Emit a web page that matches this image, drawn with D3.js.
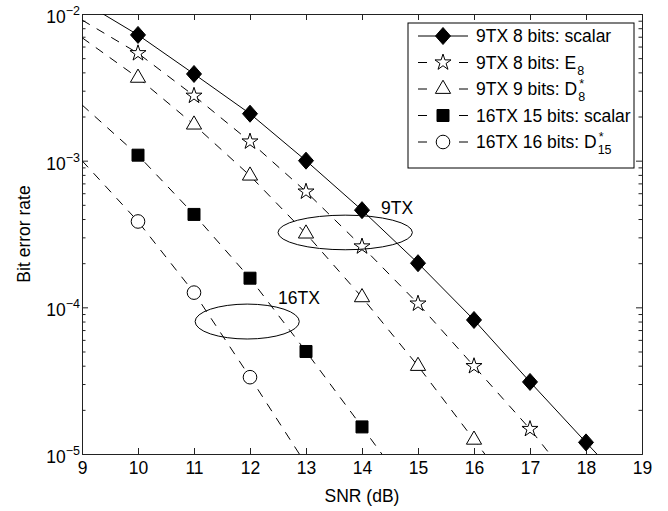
<!DOCTYPE html>
<html>
<head>
<meta charset="utf-8">
<script src="https://cdn.jsdelivr.net/npm/d3@7"></script>
<style>
  body { margin: 0; background: #fff; }
  svg { font-family: Arial, "Liberation Sans", Helvetica, sans-serif; }
</style>
</head>
<body>
<svg width="668" height="511"></svg>
<script>
// marker positions (SNR in dB)
var snr = [10, 11, 12, 13, 14, 15, 16, 17, 18];

// bit error rate
var scalar9 = [7.2e-3, 3.9e-3, 2.09e-3, 1.0e-3, 4.6e-4, 2.0e-4, 8.2e-5, 3.1e-5, 1.2e-5];
var e8 = [5.4e-3, 2.77e-3, 1.35e-3, 6.15e-4, 2.6e-4, 1.06e-4, 3.97e-5, 1.48e-5];
var d8 = [3.67e-3, 1.76e-3, 7.9e-4, 3.18e-4, 1.17e-4, 3.98e-5, 1.25e-5];
var scalar16 = [1.09e-3, 4.3e-4, 1.58e-4, 5.0e-5, 1.53e-5];
var d15 = [3.85e-4, 1.26e-4, 3.34e-5];

// where each curve enters at the left axis and leaves past the bottom
var lineStart = [1.22e-2, 9.1e-3, 6.9e-3, 2.4e-3, 1.0e-3];
var lineEndX = [18.5, 17.5, 16.5, 14.5, 13];
var lineEndY = [7.5e-6, 8.5e-6, 7.0e-6, 8.4e-6, 8.5e-6];

var names = ["9TX 8 bits: scalar", "9TX 8 bits: E", "9TX 9 bits: D", "16TX 15 bits: scalar", "16TX 16 bits: D"];
var subs = ["", "8", "8", "", "15"];
var sups = ["", "", "*", "", "*"];
var markers = ["diamond", "star", "triangle", "square", "circle"];
var dashed = [false, true, true, true, true];

var xTicks = [9, 10, 11, 12, 13, 14, 15, 16, 17, 18, 19];
var yTicks = [1e-5, 1e-4, 1e-3, 1e-2];
var yExp = ["\u22125", "\u22124", "\u22123", "\u22122"];

// the two group ellipses: centre (dB, BER), half width in dB, half height in decades
var groups = [
  {label: "9TX", cx: 13.7, cy: 3.24e-4, rx: 1.2, ry: 0.118, lx: 14.34, ly: 4.3e-4},
  {label: "16TX", cx: 11.95, cy: 8.0e-5, rx: 0.93, ry: 0.119, lx: 12.5, ly: 1.05e-4}
];

var series = [scalar9, e8, d8, scalar16, d15];

draw();

function draw() {
  var pl = 82, pr = 642, pt = 14, pb = 454;
  var fs = 17.5;

  var svg = d3.select("svg");
  var x = d3.scaleLinear().domain([9, 19]).range([pl, pr]);
  var y = d3.scaleLog().domain([1e-5, 1e-2]).range([pb, pt]);

  svg.append("clipPath").attr("id", "plot")
    .append("rect").attr("x", pl).attr("y", pt)
    .attr("width", pr - pl).attr("height", pb - pt);

  // minor ticks for the log axis
  var minor = [];
  [1e-5, 1e-4, 1e-3].forEach(d => { for (var k = 2; k <= 9; k++) minor.push(d * k); });

  function axisStyle(g) {
    g.select(".domain").attr("stroke", "#222");
    g.selectAll(".tick line").attr("stroke", "#222");
    g.selectAll("text").attr("font-size", fs).attr("fill", "#000").attr("font-family", null);
  }

  svg.append("g").attr("transform", "translate(0," + pb + ")")
    .call(d3.axisBottom(x).tickValues(xTicks).tickSize(-6).tickPadding(8).tickFormat(d3.format("d")))
    .call(axisStyle);
  svg.append("g").attr("transform", "translate(0," + pt + ")")
    .call(d3.axisTop(x).tickValues(xTicks).tickSize(-6).tickFormat(""))
    .call(axisStyle);
  svg.append("g").attr("transform", "translate(" + pl + ",0)")
    .call(d3.axisLeft(y).tickValues(yTicks).tickSize(-6).tickFormat(""))
    .call(axisStyle);
  svg.append("g").attr("transform", "translate(" + pr + ",0)")
    .call(d3.axisRight(y).tickValues(yTicks).tickSize(-6).tickFormat(""))
    .call(axisStyle);
  svg.append("g").attr("transform", "translate(" + pl + ",0)")
    .call(d3.axisLeft(y).tickValues(minor).tickSize(-3.5).tickFormat(""))
    .call(g => g.select(".domain").remove())
    .call(axisStyle);
  svg.append("g").attr("transform", "translate(" + pr + ",0)")
    .call(d3.axisRight(y).tickValues(minor).tickSize(-3.5).tickFormat(""))
    .call(g => g.select(".domain").remove())
    .call(axisStyle);

  // y tick labels 10^n
  var yl = svg.append("g").selectAll("text").data(yTicks).join("text")
    .attr("x", pl - 2)
    .attr("y", d => y(d) + 9)
    .attr("text-anchor", "end")
    .attr("font-size", fs);
  yl.append("tspan").text("10");
  yl.append("tspan").text((d, i) => yExp[i]).attr("font-size", 12.5).attr("dy", -8);

  svg.append("text").attr("x", (pl + pr) / 2).attr("y", 502)
    .attr("text-anchor", "middle").attr("font-size", fs).text("SNR (dB)");
  svg.append("text").attr("transform", "translate(30," + (pt + pb) / 2 + ") rotate(-90)")
    .attr("text-anchor", "middle").attr("font-size", fs).text("Bit error rate");

  // marker shapes
  function markerPath(kind) {
    if (kind === "diamond") return "M0,-8.5L7.5,0L0,8.5L-7.5,0Z";
    if (kind === "square") return "M-6,-6H6V6H-6Z";
    if (kind === "circle") return d3.symbol(d3.symbolCircle, Math.PI * 6.8 * 6.8)();
    if (kind === "star") return d3.symbol(d3.symbolStar, 80)();
    if (kind === "triangle") return d3.symbol(d3.symbolTriangle, 100)();
  }
  function markerFill(kind) {
    return (kind === "diamond" || kind === "square") ? "#000" : "#fff";
  }

  var line = d3.line().x(d => x(d[0])).y(d => y(d[1]));
  var plot = svg.append("g");

  series.forEach((vals, i) => {
    var pts = [[9, lineStart[i]]].concat(vals.map((v, j) => [snr[j], v])).concat([[lineEndX[i], lineEndY[i]]]);
    plot.append("path").datum(pts)
      .attr("clip-path", "url(#plot)")
      .attr("d", line)
      .attr("fill", "none")
      .attr("stroke", "#000")
      .attr("stroke-width", 1)
      .attr("stroke-dasharray", dashed[i] ? "9,8" : null);
    plot.append("g").selectAll("path").data(vals).join("path")
      .attr("transform", (v, j) => "translate(" + x(snr[j]) + "," + y(v) + ")")
      .attr("d", markerPath(markers[i]))
      .attr("fill", markerFill(markers[i]))
      .attr("stroke", "#000")
      .attr("stroke-width", 1);
  });

  // ellipses and their labels
  groups.forEach(g => {
    var cx = x(g.cx), cy = y(g.cy);
    svg.append("ellipse")
      .attr("cx", cx).attr("cy", cy)
      .attr("rx", x(g.cx + g.rx) - cx)
      .attr("ry", cy - y(g.cy * Math.pow(10, g.ry)))
      .attr("fill", "none").attr("stroke", "#000").attr("stroke-width", 1);
    svg.append("text").attr("x", x(g.lx)).attr("y", y(g.ly))
      .attr("font-size", fs).text(g.label);
  });

  // legend
  var lg = svg.append("g");
  lg.append("rect").attr("x", 408).attr("y", 23).attr("width", 226).attr("height", 145)
    .attr("fill", "#fff").attr("stroke", "#000").attr("stroke-width", 1);
  names.forEach((n, i) => {
    var ry = 36 + i * 26.5;
    lg.append("line").attr("x1", 418).attr("x2", 468).attr("y1", ry).attr("y2", ry)
      .attr("stroke", "#000").attr("stroke-width", 1)
      .attr("stroke-dasharray", dashed[i] ? "9,32" : null);
    lg.append("path").attr("transform", "translate(443," + ry + ")")
      .attr("d", markerPath(markers[i]))
      .attr("fill", markerFill(markers[i])).attr("stroke", "#000");
    var t = lg.append("text").attr("x", 476).attr("y", ry + 6).attr("font-size", fs).text(n);
    var w = t.node().getComputedTextLength();
    if (subs[i]) lg.append("text").attr("x", 477 + w).attr("y", ry + 12).attr("font-size", 12.5).text(subs[i]);
    if (sups[i]) lg.append("text").attr("x", 478 + w).attr("y", ry - 1).attr("font-size", 12.5).text(sups[i]);
  });
}
</script>
</body>
</html>
